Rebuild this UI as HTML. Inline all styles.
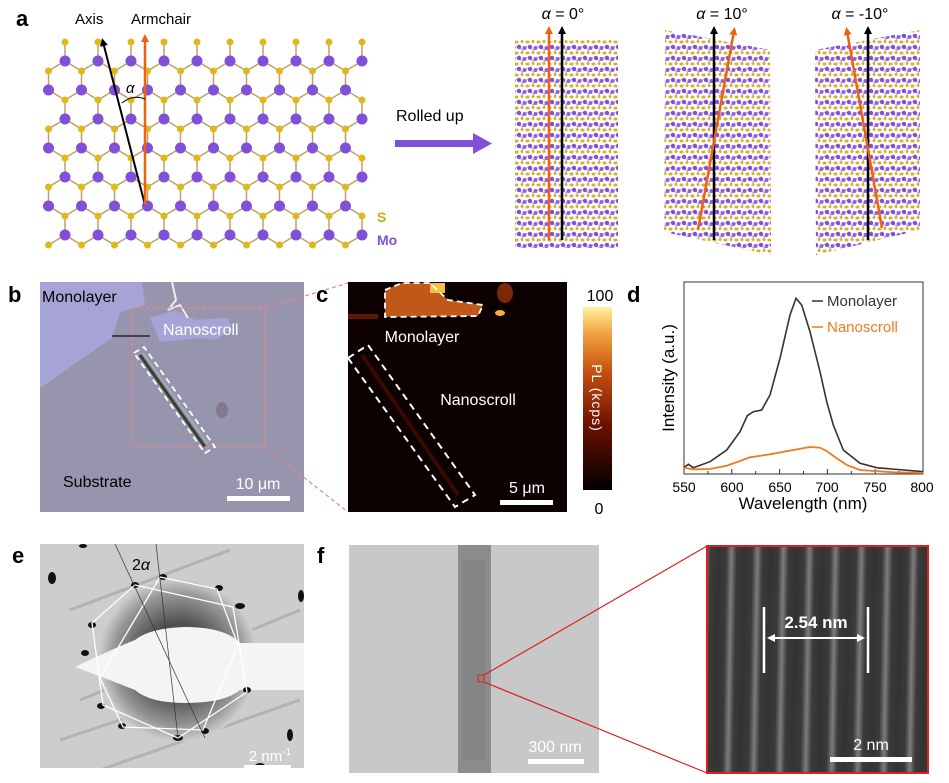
<!DOCTYPE html>
<html><head><meta charset="utf-8"><style>
html,body{margin:0;padding:0;background:#fff;}
svg{display:block;font-family:"Liberation Sans",sans-serif;}
</style></head><body>
<svg id="s" width="949" height="783" viewBox="0 0 949 783" xmlns="http://www.w3.org/2000/svg">
<defs>
<pattern id="scr" width="11" height="11" patternUnits="userSpaceOnUse">
<rect width="11" height="11" fill="#fff"/>
<path d="M0 2 L5.5 6 L11 2 M5.5 6 L5.5 10" stroke="#b8a0e0" stroke-width="1" fill="none"/>
<circle cx="2" cy="3" r="2.2" fill="#8050d8"/><circle cx="7.5" cy="4" r="2" fill="#9060e0"/>
<circle cx="5" cy="8.5" r="1.5" fill="#d8b020"/><circle cx="10" cy="9" r="1.5" fill="#d8b020"/><circle cx="0" cy="9" r="1.5" fill="#d8b020"/>
</pattern>
<linearGradient id="stripe" x1="0" y1="0" x2="1" y2="0">
<stop offset="0" stop-color="#333"/><stop offset="0.3" stop-color="#3a3a3a"/><stop offset="0.5" stop-color="#7d7d7d"/><stop offset="0.7" stop-color="#3a3a3a"/><stop offset="1" stop-color="#333"/>
</linearGradient>
<pattern id="hr" width="26" height="8" patternUnits="userSpaceOnUse" patternTransform="rotate(1)">
<rect width="26" height="8" fill="url(#stripe)"/>
</pattern>
<linearGradient id="cb" x1="0" y1="1" x2="0" y2="0">
<stop offset="0" stop-color="#000"/><stop offset="0.35" stop-color="#6a1000"/><stop offset="0.65" stop-color="#c85010"/><stop offset="0.85" stop-color="#f0a040"/><stop offset="1" stop-color="#fff0a0"/>
</linearGradient>
<radialGradient id="halo" cx="0.5" cy="0.5" r="0.5">
<stop offset="0.45" stop-color="#505050"/><stop offset="0.8" stop-color="#959595"/><stop offset="1" stop-color="#cfcfcf"/>
</radialGradient>
<marker id="ab" markerWidth="8" markerHeight="8" refX="4" refY="4" orient="auto" markerUnits="userSpaceOnUse"><path d="M0 0 L8 4 L0 8z" fill="#000"/></marker>
<marker id="ao" markerWidth="8" markerHeight="8" refX="4" refY="4" orient="auto" markerUnits="userSpaceOnUse"><path d="M0 0 L8 4 L0 8z" fill="#f06010"/></marker>
<clipPath id="ce"><rect x="40" y="544" width="264" height="224"/></clipPath>
</defs>

<!-- panel a -->
<text x="16" y="26" font-size="22" font-weight="bold">a</text>
<g id="lat"></g>
<line x1="145" y1="205" x2="103" y2="42" stroke="#000" stroke-width="2" marker-end="url(#ab)"/>
<line x1="145" y1="205" x2="145" y2="38" stroke="#f06010" stroke-width="2.5" marker-end="url(#ao)"/>
<path d="M122 103 Q133 94 145 99" stroke="#000" stroke-width="1" fill="none"/>
<text x="126" y="93" font-size="15" font-style="italic">α</text>
<text x="75" y="24" font-size="15">Axis</text>
<text x="131" y="24" font-size="15">Armchair</text>
<text x="377" y="222" font-size="14" font-weight="bold" fill="#d0a818">S</text>
<text x="377" y="245" font-size="14" font-weight="bold" fill="#8050d8">Mo</text>
<text x="396" y="121" font-size="16">Rolled up</text>
<rect x="395" y="140" width="80" height="7" fill="#8050d8"/>
<path d="M473 133 L492 143.5 L473 154z" fill="#8050d8"/>

<rect x="515" y="40" width="103" height="208" fill="url(#scr)"/>
<polygon points="665,30 770,50 771,255 664,232" fill="url(#scr)"/>
<polygon points="815,50 920,30 920,230 816,255" fill="url(#scr)"/>
<line x1="549" y1="240" x2="549" y2="30" stroke="#f06010" stroke-width="2.5" marker-end="url(#ao)"/>
<line x1="562" y1="240" x2="562" y2="30" stroke="#000" stroke-width="2.5" marker-end="url(#ab)"/>
<line x1="714" y1="240" x2="714" y2="30" stroke="#000" stroke-width="2.5" marker-end="url(#ab)"/>
<line x1="698" y1="230" x2="734" y2="31" stroke="#f06010" stroke-width="2.5" marker-end="url(#ao)"/>
<line x1="868" y1="240" x2="868" y2="30" stroke="#000" stroke-width="2.5" marker-end="url(#ab)"/>
<line x1="882" y1="228" x2="847" y2="31" stroke="#f06010" stroke-width="2.5" marker-end="url(#ao)"/>
<text x="563" y="19" font-size="16" text-anchor="middle"><tspan font-style="italic">α</tspan> = 0°</text>
<text x="722" y="19" font-size="16" text-anchor="middle"><tspan font-style="italic">α</tspan> = 10°</text>
<text x="860" y="19" font-size="16" text-anchor="middle"><tspan font-style="italic">α</tspan> = -10°</text>

<!-- panel b -->
<text x="8" y="302" font-size="22" font-weight="bold">b</text>
<rect x="40" y="282" width="264" height="230" fill="#9695ad"/>
<polygon points="40,282 142,282 145,305 120,312 112,338 40,388" fill="#a6a4d6"/>
<polygon points="150,318 175,310 195,320 228,318 232,330 215,340 200,338 160,342" fill="#a6a4d6"/>
<path d="M172 282 L176 300 L168 310 L180 305 L188 318" stroke="#eee" stroke-width="2" fill="none"/>
<path d="M112 336 L150 336" stroke="#404050" stroke-width="2"/>
<path d="M140 355 L205 447" stroke="#384030" stroke-width="3"/>
<path d="M143 353 L208 444" stroke="#b0b8c0" stroke-width="1"/>
<ellipse cx="222" cy="410" rx="6" ry="8" fill="#7a6e80" opacity="0.7"/>
<rect x="132" y="308" width="133" height="139" fill="none" stroke="#f08080" stroke-width="1.3" stroke-dasharray="4,3"/>
<polygon points="134,353 144,347 215,447 205,453" fill="none" stroke="#fff" stroke-width="1.8" stroke-dasharray="6,4"/>
<line x1="265" y1="308" x2="348" y2="283" stroke="#f08080" stroke-width="1.2" stroke-dasharray="4,3"/>
<line x1="265" y1="447" x2="348" y2="512" stroke="#f08080" stroke-width="1.2" stroke-dasharray="4,3"/>
<text x="42" y="302" font-size="16">Monolayer</text>
<text x="163" y="335" font-size="16" fill="#fff">Nanoscroll</text>
<text x="63" y="487" font-size="16">Substrate</text>
<text x="258" y="489" font-size="16" fill="#fff" text-anchor="middle">10 μm</text>
<rect x="227" y="496" width="63" height="5" fill="#fff"/>

<!-- panel c -->
<text x="316" y="302" font-size="22" font-weight="bold">c</text>
<rect x="348" y="282" width="219" height="230" fill="#0c0000"/>
<polygon points="385,290 402,283 430,283 448,300 483,305 478,316 385,317" fill="#c0581a"/>
<rect x="430" y="283" width="15" height="10" fill="#f8c040"/>
<ellipse cx="505" cy="293" rx="8" ry="10" fill="#7a2a08"/>
<ellipse cx="500" cy="313" rx="5" ry="3" fill="#f0b040"/>
<rect x="348" y="314" width="30" height="5" fill="#5a1a05"/>
<line x1="362" y1="355" x2="458" y2="495" stroke="#3a0800" stroke-width="4"/>
<polygon points="385,290 402,283 430,283 448,300 483,305 478,316 385,317" fill="none" stroke="#fff" stroke-width="1.8" stroke-dasharray="6,4"/>
<polygon points="348,358 368,345 475,495 455,507" fill="none" stroke="#fff" stroke-width="2" stroke-dasharray="7,5"/>
<text x="422" y="342" font-size="16" fill="#fff" text-anchor="middle">Monolayer</text>
<text x="478" y="405" font-size="16" fill="#fff" text-anchor="middle">Nanoscroll</text>
<text x="527" y="493" font-size="16" fill="#fff" text-anchor="middle">5 μm</text>
<rect x="500" y="500" width="53" height="5" fill="#fff"/>
<rect x="583" y="307" width="29" height="183" fill="url(#cb)"/>
<text x="600" y="301" font-size="16" text-anchor="middle">100</text>
<text x="599" y="514" font-size="16" text-anchor="middle">0</text>
<text transform="translate(592,398) rotate(90)" font-size="14" fill="#fff" text-anchor="middle" letter-spacing="1">PL  (kcps)</text>

<!-- panel d -->
<text x="627" y="302" font-size="22" font-weight="bold">d</text>
<rect x="684" y="282" width="239" height="192" fill="none" stroke="#333" stroke-width="1"/>
<g id="tk" stroke="#333" stroke-width="1"></g>
<g font-size="14" text-anchor="middle">
<text x="684" y="492">550</text><text x="732" y="492">600</text><text x="780" y="492">650</text><text x="827" y="492">700</text><text x="875" y="492">750</text><text x="922" y="492">800</text>
</g>
<text x="803" y="509" font-size="17" text-anchor="middle">Wavelength (nm)</text>
<text transform="translate(674,378) rotate(-90)" font-size="17" text-anchor="middle">Intensity (a.u.)</text>
<polyline id="mono" fill="none" stroke="#333" stroke-width="1.6"/>
<polyline id="nano" fill="none" stroke="#f07a20" stroke-width="1.8"/>
<line x1="812" y1="301" x2="823" y2="301" stroke="#333" stroke-width="1.5"/>
<text x="827" y="306" font-size="15" fill="#333">Monolayer</text>
<line x1="812" y1="327" x2="823" y2="327" stroke="#f07a20" stroke-width="1.5"/>
<text x="827" y="332" font-size="15" fill="#f07a20">Nanoscroll</text>

<!-- panel e -->
<text x="12" y="563" font-size="22" font-weight="bold">e</text>
<g clip-path="url(#ce)">
<rect x="40" y="544" width="264" height="224" fill="#cdcdcd"/>
<g stroke="#a8a8a8" stroke-width="3" opacity="0.7">
<line x1="70" y1="610" x2="230" y2="550"/><line x1="80" y1="700" x2="300" y2="610"/><line x1="60" y1="740" x2="300" y2="660"/><line x1="100" y1="770" x2="300" y2="700"/>
</g>
<ellipse cx="178" cy="660" rx="80" ry="82" fill="url(#halo)"/>
<path d="M75 667 Q110 650 135 640 Q150 628 185 627 Q225 627 240 643 L304 643 L304 690 L240 690 Q225 703 185 703 Q150 703 135 690 Q110 680 75 667z" fill="#f4f4f4"/>
<g fill="#111">
<ellipse cx="163" cy="577" rx="4" ry="3"/><ellipse cx="135" cy="585" rx="4" ry="3"/><ellipse cx="219" cy="588" rx="4" ry="3"/><ellipse cx="240" cy="606" rx="5" ry="3"/>
<ellipse cx="92" cy="625" rx="4" ry="3"/><ellipse cx="85" cy="653" rx="4" ry="3"/><ellipse cx="247" cy="690" rx="4" ry="3"/>
<ellipse cx="101" cy="706" rx="4" ry="3"/><ellipse cx="122" cy="726" rx="4" ry="3"/><ellipse cx="178" cy="738" rx="5" ry="3"/><ellipse cx="205" cy="731" rx="4" ry="3"/>
<ellipse cx="52" cy="578" rx="4" ry="6"/><ellipse cx="301" cy="596" rx="3" ry="6"/><ellipse cx="290" cy="735" rx="3" ry="6"/><ellipse cx="260" cy="766" rx="5" ry="3"/><ellipse cx="83" cy="546" rx="4" ry="2"/>
</g>
<polygon points="160,577 217,589 238,645 203,730 123,727 100,678" fill="none" stroke="#fff" stroke-width="1.3"/>
<polygon points="135,585 233,607 247,692 178,738 103,705 92,623" fill="none" stroke="#fff" stroke-width="1.3"/>
<line x1="115" y1="544" x2="205" y2="738" stroke="#333" stroke-width="0.7"/>
<line x1="156" y1="544" x2="178" y2="738" stroke="#333" stroke-width="0.7"/>
</g>
<text x="132" y="570" font-size="16"><tspan>2</tspan><tspan font-style="italic">α</tspan></text>
<text x="270" y="761" font-size="15" fill="#fff" text-anchor="middle">2 nm<tspan font-size="10" dy="-6">-1</tspan></text>
<rect x="244" y="765" width="47" height="5" fill="#fff"/>

<!-- panel f -->
<text x="317" y="563" font-size="22" font-weight="bold">f</text>
<rect x="349" y="545" width="250" height="228" fill="#c8c8c8"/>
<rect x="458" y="545" width="33" height="228" fill="#8c8c8c"/>
<rect x="462" y="560" width="24" height="200" fill="#7e7e7e" opacity="0.6"/>
<rect x="478" y="675" width="6" height="7" fill="none" stroke="#e02020" stroke-width="1"/>
<line x1="484" y1="675" x2="707" y2="546" stroke="#e02020" stroke-width="1.2"/>
<line x1="484" y1="682" x2="707" y2="773" stroke="#e02020" stroke-width="1.2"/>
<text x="555" y="752" font-size="16" fill="#fff" text-anchor="middle">300 nm</text>
<rect x="528" y="759" width="56" height="5" fill="#fff"/>
<rect x="707" y="546" width="221" height="227" fill="url(#hr)" stroke="#e02020" stroke-width="2"/>
<line x1="764" y1="607" x2="764" y2="673" stroke="#fff" stroke-width="2.5"/>
<line x1="868" y1="607" x2="868" y2="673" stroke="#fff" stroke-width="2.5"/>
<line x1="770" y1="638" x2="862" y2="638" stroke="#fff" stroke-width="2"/>
<path d="M767 638 L775 634 L775 642z M865 638 L857 634 L857 642z" fill="#fff"/>
<text x="816" y="628" font-size="17" font-weight="bold" fill="#fff" text-anchor="middle">2.54 nm</text>
<text x="871" y="750" font-size="16" fill="#fff" text-anchor="middle">2 nm</text>
<rect x="830" y="757" width="82" height="5" fill="#fff"/>
</svg>
<script>
(function(){
var NS="http://www.w3.org/2000/svg",g=document.getElementById('lat');
function el(n,a){var e=document.createElementNS(NS,n);for(var k in a)e.setAttribute(k,a[k]);g.appendChild(e);return e;}
var mo=[],s=[],b=[];
var x0=65,dx=33,h=16.5,XL=40,XR=368;
function inx(x){return x>=XL&&x<=XR;}
for(var c=-1;c<11;c++){
 var x=x0+c*dx;
 for(var r=0;r<4;r++){
  var y=61+r*58;
  if(inx(x)) mo.push([x,y]);
  if(y+29<=240 && inx(x+h)) mo.push([x+h,y+29]);
  if(inx(x+h)){ s.push([x+h,y+10]); if(inx(x))b.push([x,y,x+h,y+10]); if(inx(x+dx))b.push([x+dx,y,x+h,y+10]); if(y+29<=240)b.push([x+h,y+10,x+h,y+29]);}
  if(y+39<=250 && inx(x)){ s.push([x,y+39]); if(y+29<=240){ if(inx(x+h))b.push([x+h,y+29,x,y+39]); if(inx(x-h))b.push([x-h,y+29,x,y+39]);} if(y+58<=240)b.push([x,y+39,x,y+58]);}
 }
 if(inx(x)){s.push([x,42]);b.push([x,42,x,61]);}
}
b.forEach(function(q){el('line',{x1:q[0],y1:q[1],x2:q[2],y2:q[3],stroke:'#c0a060','stroke-width':1.5});});
s.forEach(function(p){el('circle',{cx:p[0],cy:p[1],r:3.5,fill:'#e0b818'});});
mo.forEach(function(p){el('circle',{cx:p[0],cy:p[1],r:5.5,fill:'#8050d8'});});
var tk=document.getElementById('tk');
for(var w=550;w<=800;w+=25){var X=684+(w-550)*0.956;var L=(w%50==0)?5:3;var l=document.createElementNS(NS,'line');l.setAttribute('x1',X);l.setAttribute('x2',X);l.setAttribute('y1',474);l.setAttribute('y2',474-L);tk.appendChild(l);}
function pts(a){return a.map(function(p){return (p[0]/3+660).toFixed(1)+','+(p[1]/3+275).toFixed(1);}).join(' ');}
document.getElementById('mono').setAttribute('points',pts([[72,578],[85,568],[100,578],[150,560],[200,525],[240,470],[262,422],[280,410],[305,405],[330,360],[360,250],[390,120],[408,70],[425,90],[450,170],[480,290],[500,380],[520,450],[550,525],[600,565],[650,578],[790,590]]));
document.getElementById('nano').setAttribute('points',pts([[72,578],[100,583],[150,582],[200,572],[240,558],[270,547],[330,538],[400,525],[450,516],[480,518],[500,528],[530,550],[560,570],[600,585],[700,592],[790,594]]));
})();
</script>
</body></html>
